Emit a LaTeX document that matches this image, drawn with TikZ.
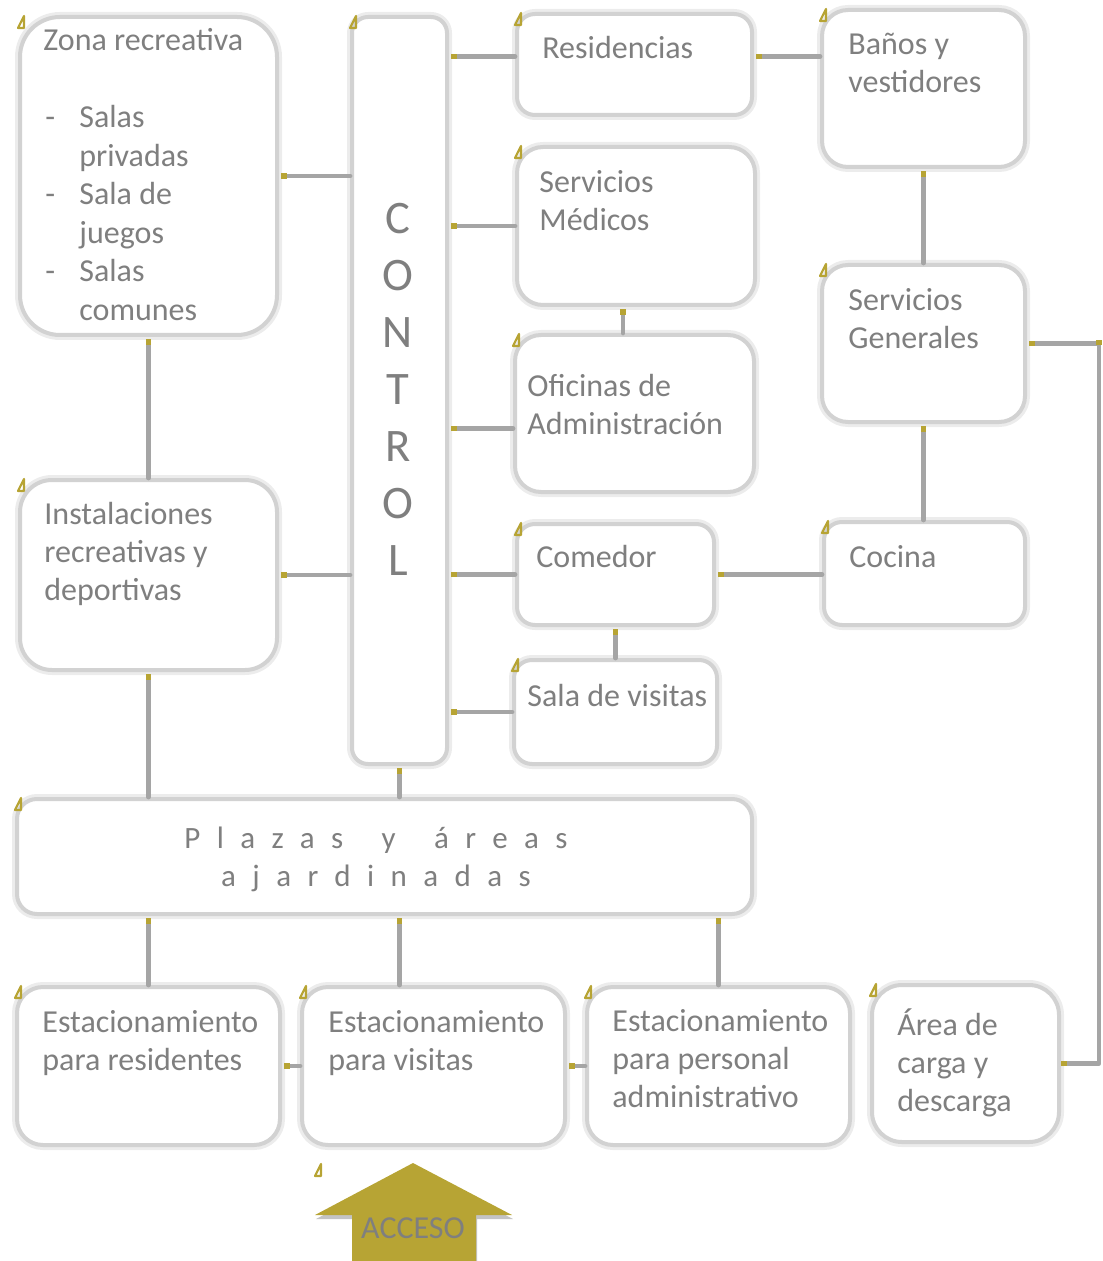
\documentclass[tikz,border=0pt]{standalone}
\usepackage{fontspec}
\setmainfont{Carlito}
\usetikzlibrary{arrows.meta}
\definecolor{mustard}{RGB}{183,164,52}
\definecolor{labelgray}{RGB}{127,127,127}
\definecolor{linkgray}{RGB}{165,165,165}
\definecolor{boxline}{RGB}{210,210,210}
\definecolor{boxglow}{RGB}{236,236,236}
\definecolor{shadowgray}{RGB}{195,195,195}
\newcommand{\tstrut}{\rule{0pt}{14pt}}

\begin{document}
\begin{tikzpicture}[
  zbox/.style={draw=boxline, line width=2pt, fill=white, rounded corners=#1,
    inner sep=0pt, anchor=north west, preaction={draw=boxglow, line width=5pt}},
  boxtext/.style={anchor=north west, inner sep=0pt, align=left, text=labelgray,
    font=\fontsize{16}{19}\selectfont},
  link/.style={draw=linkgray, line width=2.4pt, shorten <=1pt, <-},
  linkboth/.style={link, <->},
  anchormark/.style={draw=mustard, line width=1.1pt},
  >={Square[length=3pt, width=2.6pt, color=mustard]}
]
% layout measured in pixels of the 1102 x 1261 sheet
\def\pxsz{0.5pt}
\begin{scope}[x=\pxsz, y=-\pxsz, line cap=round, line join=round]
  \useasboundingbox (0,0) rectangle (1102,1261);
  % Boxes
  \node[zbox=20pt, minimum width=257*\pxsz, minimum height=318*\pxsz] (zona) at (18,15) {};
  \node[zbox=8pt, minimum width=95*\pxsz, minimum height=747*\pxsz] (control) at (350,15) {};
  \node[zbox=9pt, minimum width=235*\pxsz, minimum height=101*\pxsz] (resid) at (515,12) {};
  \node[zbox=13pt, minimum width=203*\pxsz, minimum height=157*\pxsz] (banos) at (820,8) {};
  \node[zbox=13pt, minimum width=238*\pxsz, minimum height=158*\pxsz] (smed) at (515,145) {};
  \node[zbox=13pt, minimum width=203*\pxsz, minimum height=157*\pxsz] (sgen) at (820,263) {};
  \node[zbox=13pt, minimum width=239*\pxsz, minimum height=157*\pxsz] (ofic) at (513,333) {};
  \node[zbox=9pt, minimum width=197*\pxsz, minimum height=101*\pxsz] (comedor) at (515,522) {};
  \node[zbox=9pt, minimum width=201*\pxsz, minimum height=103*\pxsz] (cocina) at (822,520) {};
  \node[zbox=9pt, minimum width=203*\pxsz, minimum height=104*\pxsz] (visitas) at (512,658) {};
  \node[zbox=16pt, minimum width=257*\pxsz, minimum height=190*\pxsz] (instal) at (18,478) {};
  \node[zbox=10pt, minimum width=735*\pxsz, minimum height=115*\pxsz] (plazas) at (15,797) {};
  \node[zbox=13pt, minimum width=263*\pxsz, minimum height=158*\pxsz] (estres) at (15,985) {};
  \node[zbox=13pt, minimum width=263*\pxsz, minimum height=158*\pxsz] (estvis) at (300,985) {};
  \node[zbox=13pt, minimum width=263*\pxsz, minimum height=158*\pxsz] (estper) at (585,985) {};
  \node[zbox=15pt, minimum width=187*\pxsz, minimum height=157*\pxsz] (carga) at (870,983) {};
  % Connectors
  \coordinate (resid-in) at ([shift={(0,-8)}]resid.west);
  \coordinate (resid-out) at ([shift={(0,-8)}]resid.east);
  \coordinate (ofic-in) at ([shift={(0,15)}]ofic.west);
  \coordinate (smed-out) at ([shift={(-13,0)}]smed.south);
  \coordinate (bend) at ([shift={(72,0)}]sgen.east);
  \draw[link] (zona.east) -- (zona.east -| control.west);
  \draw[link] (zona.south) -- (instal.north);
  \draw[link] (instal.east) -- (instal.east -| control.west);
  \draw[link] (instal.south) -- (instal.south |- plazas.north);
  \draw[link] (control.east |- resid-in) -- (resid-in);
  \draw[link] (resid-out) -- (resid-out -| banos.west);
  \draw[link] (control.east |- smed.west) -- (smed.west);
  \draw[link] (smed-out) -- (smed-out |- ofic.north);
  \draw[link] (control.east |- ofic-in) -- (ofic-in);
  \draw[link] (control.east |- comedor.west) -- (comedor.west);
  \draw[link] (comedor.east) -- (comedor.east -| cocina.west);
  \draw[link] (comedor.south) -- (comedor.south |- visitas.north);
  \draw[link] (control.east |- visitas.west) -- (visitas.west);
  \draw[link] (banos.south) -- (sgen.north);
  \draw[link] (sgen.south) -- (sgen.south |- cocina.north);
  \draw[linkboth] (sgen.east) -- (bend) |- (carga.east);
  \fill[mustard] (bend) ++(-3,-3) rectangle ++(6,5);
  \draw[link] (control.south) -- (control.south |- plazas.north);
  \draw[link] (estres.north |- plazas.south) -- (estres.north);
  \draw[link] (control.south |- plazas.south) -- (control.south |- estvis.north);
  \draw[link] (estper.north |- plazas.south) -- (estper.north);
  \draw[link] (estres.east) -- (estvis.west);
  \draw[link] (estvis.east) -- (estper.west);
  % Texts
  \node[boxtext, font=\fontsize{16}{19.3}\selectfont] (zona-t) at (43,22) {\tstrut Zona recreativa\\[19.3pt]\makebox[18pt][l]{\hspace{1pt}-}Salas\\
    \hspace*{18pt}privadas\\ \makebox[18pt][l]{\hspace{1pt}-}Sala de\\ \hspace*{18pt}juegos\\
    \makebox[18pt][l]{\hspace{1pt}-}Salas\\ \hspace*{18pt}comunes};
  \node[boxtext, anchor=north, align=center, font=\fontsize{23.3}{28.5}\selectfont] (control-t) at (398,193)
    {\rule{0pt}{20pt}C\\O\\N\\T\\R\\O\\L};
  \node[boxtext] (resid-t) at (542,30) {\tstrut Residencias};
  \node[boxtext] (banos-t) at (848,26) {\tstrut Baños y\\vestidores};
  \node[boxtext] (smed-t) at (539,164) {\tstrut Servicios\\Médicos};
  \node[boxtext] (sgen-t) at (848,282) {\tstrut Servicios\\Generales};
  \node[boxtext] (ofic-t) at (527,368) {\tstrut Oficinas de\\Administración};
  \node[boxtext] (comedor-t) at (536,539) {\tstrut Comedor};
  \node[boxtext] (cocina-t) at (849,539) {\tstrut Cocina};
  \node[boxtext] (visitas-t) at (527,678) {\tstrut Sala de visitas};
  \node[boxtext] (instal-t) at (44,496) {\tstrut Instalaciones\\recreativas y\\deportivas};
  \node[boxtext, anchor=north, align=center,
    font=\fontsize{15.5}{19}\selectfont\addfontfeature{LetterSpace=53}] (plazas-t) at (376,820)
    {\tstrut Plazas\hspace{7.5pt} y\hspace{7.5pt} áreas\\ajardinadas};
  \node[boxtext] (estres-t) at (42,1004) {\tstrut Estacionamiento\\para residentes};
  \node[boxtext] (estvis-t) at (328,1004) {\tstrut Estacionamiento\\para visitas};
  \node[boxtext] (estper-t) at (612,1003) {\tstrut Estacionamiento\\para personal\\administrativo};
  \node[boxtext] (carga-t) at (897,1007) {\tstrut Área de\\carga y\\descarga};
  % Anchor marks
  \foreach \n in {zona,control,resid,banos,smed,sgen,ofic,comedor,cocina,visitas,instal,plazas,estres,estvis,estper,carga}
    \draw[anchormark] (\n.north west) ++(0,13) -- ++(6,-12) -- ++(0,12) -- cycle;
  % Access arrow
  \fill[shadowgray, shift={(1,4)}] (413,1163) -- (512,1215) -- (476,1215) -- (476,1261) -- (352,1261) -- (352,1215) -- (315,1215) -- cycle;
  \fill[mustard] (413,1163) -- (512,1215) -- (476,1215) -- (476,1261) -- (352,1261) -- (352,1215) -- (315,1215) -- cycle;
  \draw[anchormark] (315,1163) ++(0,13) -- ++(6,-12) -- ++(0,12) -- cycle;
  \node[anchor=base, inner sep=0pt, text=labelgray, font=\fontsize{16}{19}\selectfont] (acceso) at (413,1238) {ACCESO};
\end{scope}
\end{tikzpicture}
\end{document}
